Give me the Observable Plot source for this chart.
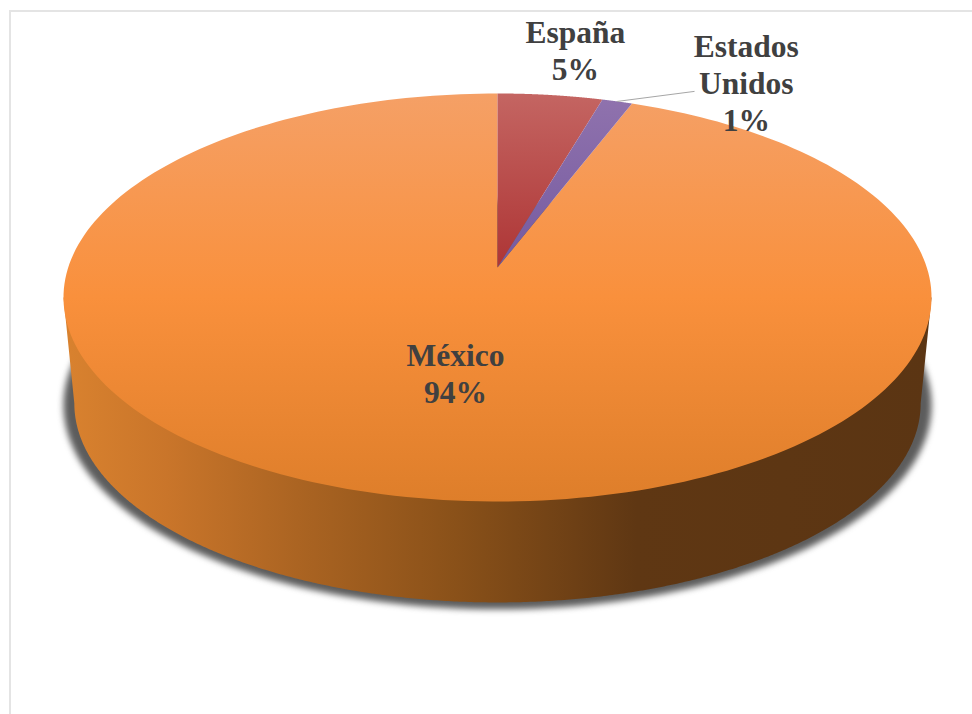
<!DOCTYPE html>
<html>
<head>
<meta charset="utf-8">
<script src="https://cdn.jsdelivr.net/npm/d3@7"></script>
<script src="https://cdn.jsdelivr.net/npm/@observablehq/plot@0.6"></script>
<style>
  html, body { margin: 0; padding: 0; background: #fff; overflow: hidden; }
  #frame { position: absolute; left: 9px; top: 10px; right: 0; bottom: 0;
           border-left: 2px solid #e4e4e4; border-top: 2px solid #e4e4e4; }
  #chart { position: absolute; left: 0; top: 0; }
  #chart svg { background: transparent; }
</style>
</head>
<body>
<div id="frame"></div>
<div id="chart"></div>
<script>
// Data, clockwise from twelve o'clock
const categories = ["España", "Estados Unidos", "México"];
const values = [4.5, 1.3, 94.2];
const percentLabels = ["5%", "1%", "94%"];
const labelLines = [["España"], ["Estados", "Unidos"], ["México"]];
const gradientIds = ["gEs", "gUs", "gMx"];
const labelDx = [25, 129, 49];
const labelDy = [-45, -19, -124];

// Perspective of the disc: foreshortening, side depth, base scale
const persp = 0.147;
const baseScale = 0.975, baseDrop = 0.535;
const shadowScale = 1, shadowDrop = 0.54;

const project = (theta, s = 1, drop = 0) => {
  const w = 1 + persp * Math.cos(theta);
  return {u: s * Math.sin(theta) / w, v: s * Math.cos(theta) / w - drop};
};
const arc = (a0, a1, s, drop, n = 240) =>
  d3.range(n + 1).map(i => project(a0 + (a1 - a0) * i / n, s, drop));

const total = d3.sum(values);
let acc = 0;
const slices = values.map((val, i) => {
  const a0 = acc / total * 2 * Math.PI;
  acc += val;
  const a1 = acc / total * 2 * Math.PI;
  return {name: categories[i], a0, a1, mid: (a0 + a1) / 2, id: gradientIds[i]};
});

const apex = {u: 0, v: 0};
const slicePoly = s => [apex, ...arc(s.a0, s.a1, 1, 0), apex];

// Side wall: from the top disc's widest points round the base's near edge
const widest = Math.acos(-persp);
const wall = [
  project(-widest),
  ...arc(-widest, -Math.PI, baseScale, baseDrop),
  ...arc(Math.PI, widest, baseScale, baseDrop),
  project(widest)
];
wall.push(wall[0]);
const shadow = arc(0, 2 * Math.PI, shadowScale, shadowDrop);

const labels = slices.map((s, i) => ({
  ...project(s.mid),
  text: [...labelLines[i], percentLabels[i]].join("\n"),
  dx: labelDx[i],
  dy: labelDy[i]
}));

const usRim = project(slices[1].mid);
const leader = [usRim, {u: usRim.u + 0.179, v: usRim.v + 0.05}];

const stops = (grad, list) => list.forEach(([o, c]) => {
  const st = document.createElementNS("http://www.w3.org/2000/svg", "stop");
  st.setAttribute("offset", o);
  st.setAttribute("stop-color", c);
  grad.appendChild(st);
});
const defsMark = () => {
  const NS = "http://www.w3.org/2000/svg";
  const defs = document.createElementNS(NS, "defs");
  const mk = (id, x1, y1, x2, y2, list) => {
    const g = document.createElementNS(NS, "linearGradient");
    g.setAttribute("id", id);
    g.setAttribute("gradientUnits", "userSpaceOnUse");
    g.setAttribute("x1", x1); g.setAttribute("y1", y1);
    g.setAttribute("x2", x2); g.setAttribute("y2", y2);
    stops(g, list);
    defs.appendChild(g);
  };
  mk("gMx", 0, 93, 0, 501, [[0, "#f5a066"], [0.5, "#f9903c"], [1, "#de7e2a"]]);
  mk("gEs", 0, 93, 0, 267, [[0, "#c46562"], [1, "#ae3535"]]);
  mk("gUs", 0, 99, 0, 267, [[0, "#8f72ad"], [1, "#755aa0"]]);
  mk("gSide", 63, 0, 931, 0, [
    [0, "#d9822f"], [0.12, "#c9752a"], [0.27, "#ab6422"],
    [0.45, "#8a5119"], [0.66, "#5f3713"], [1, "#5b3513"]
  ]);
  return defs;
};

const poly = (rows, fill) =>
  Plot.line(rows, {x: "u", y: "v", fill, stroke: "none", curve: "linear"});

const chart = Plot.plot({
  width: 972,
  height: 714,
  margin: 0,
  style: {background: "transparent"},
  x: {axis: null, domain: [-1, 1], range: [67.7, 926.3]},
  y: {axis: null, domain: [-1, 1], range: [466.6, 67.4]},
  marks: [
    defsMark,
    Plot.line(shadow, {x: "u", y: "v", fill: "#404040", stroke: "none", imageFilter: "blur(3px)", fillOpacity: 0.85}),
    poly(wall, "url(#gSide)"),
    poly(slicePoly(slices[2]), "url(#gMx)"),
    poly(slicePoly(slices[0]), "url(#gEs)"),
    poly(slicePoly(slices[1]), "url(#gUs)"),
    Plot.line(leader, {x: "u", y: "v", stroke: "#a6a6a6", strokeWidth: 1}),
    ...labels.map(l => Plot.text([l], {
      x: "u", y: "v", text: "text", dx: l.dx, dy: l.dy,
      fontFamily: "Liberation Serif", fontWeight: "bold", fontSize: 31.5,
      lineHeight: 1.175, fill: "#404040", textAnchor: "middle"
    }))
  ]
});
document.getElementById("chart").appendChild(chart);
</script>
</body>
</html>
